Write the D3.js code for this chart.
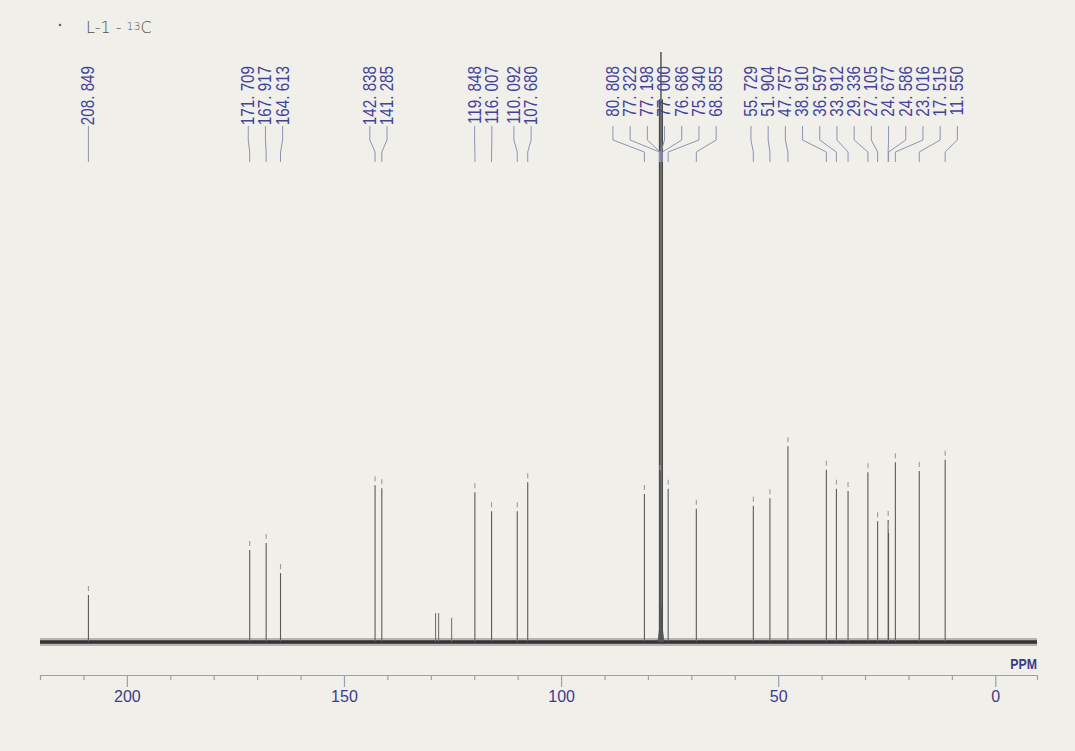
<!DOCTYPE html>
<html>
<head>
<meta charset="utf-8">
<script src="https://cdn.jsdelivr.net/npm/d3@7"></script>
<style>
  html, body { margin: 0; padding: 0; background: #f0efea; }
  svg { display: block; }
</style>
</head>
<body>
<script>
// ---- Data ----
const peakPpm = [208.849, 171.709, 167.917, 164.613, 142.838, 141.285,
  119.848, 116.007, 110.092, 107.680, 80.808, 77.322, 77.198, 77.000,
  76.686, 75.340, 68.855, 55.729, 51.904, 47.757, 38.910, 36.597, 33.912,
  29.336, 27.105, 24.677, 24.586, 23.016, 17.515, 11.550];
const peakIntensity = [9.5, 17.1, 18.3, 13.2, 28.1, 27.6,
  26.9, 23.7, 23.7, 28.6, 26.6, 92, 30, 100,
  92, 27.5, 24.1, 24.6, 25.9, 34.7, 30.7, 27.5, 27.1,
  30.3, 22.0, 22.2, 20.0, 32.0, 30.5, 32.4];
// small unlabelled peaks
const minorPpm = [128.9, 128.2, 125.2];
const minorIntensity = [4.9, 4.9, 4.1];
const majorTicks = [200, 150, 100, 50, 0];
const minorTicks = [210, 190, 180, 170, 160, 140, 130, 120, 110, 90, 80, 70, 60, 40, 30, 20, 10];
const axisUnit = "PPM";
const sampleNote = "L-1 - ";

// ---- Layout ----
const W = 1075, H = 751;
const svg = d3.select("body").append("svg").attr("width", W).attr("height", H);
svg.append("rect").attr("width", W).attr("height", H).attr("fill", "#f0efea");

const x = d3.scaleLinear().domain([220.0, -9.6]).range([40, 1037]);
const y = d3.scaleLinear().domain([0, 100]).range([642, 52]);
const axisY = 675;

// handwritten sample note
const note = svg.append("text").attr("x", 86).attr("y", 33)
  .attr("font-family", "DejaVu Sans, sans-serif").attr("font-size", 16)
  .attr("fill", "#505050").attr("font-weight", 300);
note.append("tspan").text(sampleNote);
note.append("tspan").attr("font-size", 11).attr("dy", -3).text("13");
note.append("tspan").attr("dy", 3).text("C");
svg.append("circle").attr("cx", 60).attr("cy", 25).attr("r", 1.3).attr("fill", "#666");

// baseline noise band
const base = svg.append("g");
base.append("line").attr("x1", x(220)).attr("x2", x(-9.6)).attr("y1", y(0)).attr("y2", y(0))
  .attr("stroke", "#6e6e6c").attr("stroke-width", 8).attr("stroke-opacity", 0.45);
base.append("line").attr("x1", x(220)).attr("x2", x(-9.6)).attr("y1", y(0)).attr("y2", y(0))
  .attr("stroke", "#333").attr("stroke-width", 3.5);

// peaks
const peaks = peakPpm.map((p, i) => ({ ppm: p, v: peakIntensity[i] }));
const minors = minorPpm.map((p, i) => ({ ppm: p, v: minorIntensity[i] }));
const pk = svg.append("g");
pk.selectAll("line.minor").data(minors).join("line").attr("class", "minor")
  .attr("x1", d => x(d.ppm)).attr("x2", d => x(d.ppm))
  .attr("y1", d => y(d.v)).attr("y2", y(0))
  .attr("stroke", "#6a6a6a").attr("stroke-width", 1);
pk.selectAll("line.body").data(peaks).join("line").attr("class", "body")
  .attr("x1", d => x(d.ppm)).attr("x2", d => x(d.ppm))
  .attr("y1", d => d.v > 60 ? y(d.v) : y(d.v) + 9).attr("y2", y(0))
  .attr("stroke", d => d.v > 60 ? "#4a4a4a" : "#5a5a5a")
  .attr("stroke-width", d => d.v > 60 ? 1.4 : 1.1);
pk.selectAll("line.tip").data(peaks.filter(d => d.v <= 60)).join("line").attr("class", "tip")
  .attr("x1", d => x(d.ppm)).attr("x2", d => x(d.ppm))
  .attr("y1", d => y(d.v)).attr("y2", d => y(d.v) + 5)
  .attr("stroke", "#9a9a9a").attr("stroke-width", 1.1);
// solvent base broadening
svg.append("path")
  .attr("d", d3.line()([[x(77.7), y(0)], [x(77.2), y(3)], [x(77.0), y(6)], [x(76.8), y(3)], [x(76.3), y(0)]]))
  .attr("fill", "#555").attr("stroke", "#555").attr("stroke-width", 0.8);

// peak label layout (de-overlap by groups centered on mean peak position)
const gap = 17.2;
const sorted = peaks.slice().sort((a, b) => x(a.ppm) - x(b.ppm));
let groups = [];
sorted.forEach(d => {
  groups.push({ items: [d], sum: x(d.ppm) });
  while (groups.length > 1) {
    const b = groups[groups.length - 1], a = groups[groups.length - 2];
    const ca = a.sum / a.items.length, cb = b.sum / b.items.length;
    const aRight = ca + (a.items.length - 1) / 2 * gap;
    const bLeft = cb - (b.items.length - 1) / 2 * gap;
    if (aRight + gap > bLeft) {
      groups.pop(); groups.pop();
      groups.push({ items: a.items.concat(b.items), sum: a.sum + b.sum });
    } else break;
  }
});
groups.forEach(g => {
  const c = g.sum / g.items.length, n = g.items.length;
  g.items.forEach((d, k) => { d.lx = c + (k - (n - 1) / 2) * gap; });
});

const lab = svg.append("g");
lab.selectAll("path").data(sorted).join("path")
  .attr("d", d => `M${d.lx},126 V140 L${x(d.ppm)},152 V162`)
  .attr("fill", "none").attr("stroke", "#8e94b4").attr("stroke-width", 1);
lab.selectAll("text").data(sorted).join("text")
  .attr("transform", d => `translate(${d.lx},66) rotate(-90) scale(0.845,1)`)
  .attr("text-anchor", "end").attr("dominant-baseline", "central")
  .attr("font-family", "Liberation Sans, Arial, sans-serif").attr("font-size", 18)
  .attr("fill", "#43439a")
  .text(d => d3.format(".3f")(d.ppm).replace(".", ". "));

// axis
const axG = svg.append("g").attr("transform", `translate(0,${axisY})`);
const axis = d3.axisBottom(x).tickValues(majorTicks.concat(minorTicks))
  .tickSizeOuter(0).tickSize(5).tickFormat(d => majorTicks.includes(d) ? d : "");
axG.call(axis);
axG.select(".domain").attr("stroke", "#96a0b4").attr("stroke-width", 1.2);
axG.selectAll(".tick line").attr("stroke", "#96a0b4").attr("stroke-width", 1.2)
  .attr("y2", d => majorTicks.includes(d) ? 12 : 5);
axG.selectAll(".tick text").attr("y", 16)
  .attr("font-family", "Liberation Sans, Arial, sans-serif").attr("font-size", 16)
  .attr("fill", "#3c3c8c");
svg.append("text")
  .attr("transform", "translate(1037,669) scale(0.82,1)")
  .attr("text-anchor", "end").attr("font-family", "Liberation Sans, Arial, sans-serif")
  .attr("font-size", 15).attr("font-weight", "bold").attr("fill", "#3a3a88").text(axisUnit);
</script>
</body>
</html>
